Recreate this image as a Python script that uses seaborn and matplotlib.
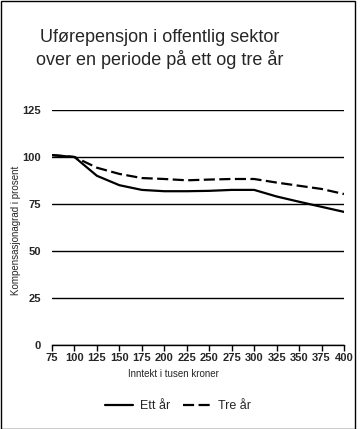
import matplotlib
matplotlib.use("Agg")
import matplotlib.pyplot as plt
import seaborn as sns
import pandas as pd
from matplotlib.patches import Rectangle
from matplotlib.lines import Line2D

income = [75, 100, 125, 150, 175, 200, 225, 250, 275, 300, 325, 350, 375, 400]
ett_ar = [101, 100, 90.0, 85.0, 82.5, 81.8, 81.8, 82.0, 82.5, 82.5, 79.0, 76.2, 73.5, 70.8]
tre_ar = [101, 100, 94.3, 91.0, 88.8, 88.3, 87.6, 88.0, 88.3, 88.3, 86.4, 84.7, 83.0, 80.3]
series_names = ["Ett år", "Tre år"]
yticks = [0, 25, 50, 75, 100, 125]

df = pd.DataFrame({
    "x": income * 2,
    "y": ett_ar + tre_ar,
    "serie": [series_names[0]] * len(income) + [series_names[1]] * len(income),
})

sns.set_theme(style="white")
plt.rcParams["font.family"] = ["Liberation Sans", "DejaVu Sans"]

fig = plt.figure(figsize=(3.6, 4.29), dpi=100)
ax = fig.add_axes([52 / 360, 1 - 345 / 429, (344 - 52) / 360, (345 - 110) / 429])

sns.lineplot(data=df, x="x", y="y", style="serie", hue="serie",
             palette=["black", "black"], dashes={"Ett år": "", "Tre år": (5, 2)},
             linewidth=1.6, ax=ax, legend=False)

ax.set_xlim(75, 400)
ax.set_ylim(0, 125)
ax.set_xticks(income)
ax.set_yticks(yticks)
ax.tick_params(axis="x", direction="out", length=4, width=1, color="black",
               labelsize=8, pad=2, bottom=True)
ax.tick_params(axis="y", length=0, labelsize=8, pad=8)
for lab in ax.get_xticklabels() + ax.get_yticklabels():
    lab.set_fontweight("bold")
ax.grid(axis="y", color="black", linewidth=1)
ax.set_axisbelow(True)
for s in ["top", "right", "left"]:
    ax.spines[s].set_visible(False)
ax.spines["bottom"].set_color("black")
ax.spines["bottom"].set_linewidth(1)

ax.set_xlabel("Inntekt i tusen kroner", fontsize=7)
ax.xaxis.set_label_coords((173 - 52) / (344 - 52), -(369 - 345) / (345 - 110))
ax.set_ylabel("Kompensasjonagrad i prosent", fontsize=7)
ax.yaxis.set_label_coords(-(52 - 21) / (344 - 52), (345 - 230) / (345 - 110))

fig.text(160 / 360, 1 - 42 / 429, "Uførepensjon i offentlig sektor", ha="center",
         va="baseline", fontsize=13)
fig.text(160 / 360, 1 - 65 / 429, "over en periode på ett og tre år", ha="center",
         va="baseline", fontsize=13)

handles = [Line2D([], [], color="black", linewidth=1.6),
           Line2D([], [], color="black", linewidth=1.6, dashes=(5, 2))]
fig.legend(handles, series_names, loc="center", bbox_to_anchor=(178 / 360, 1 - 406 / 429),
           ncol=2, frameon=False, fontsize=9, handlelength=2.2, columnspacing=1.0,
           handletextpad=0.6)

fig.patches.append(Rectangle((0.5 / 360, 0.5 / 429), 354 / 360, 427.5 / 429,
                             transform=fig.transFigure, fill=False,
                             edgecolor="black", linewidth=1))

fig.savefig("out.png", dpi=100)
